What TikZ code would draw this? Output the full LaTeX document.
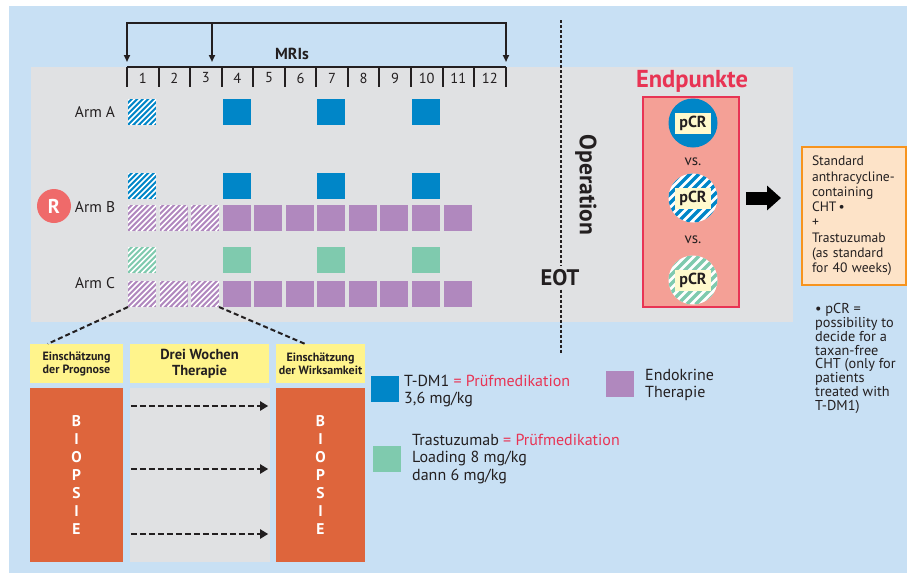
\documentclass[tikz,border=0pt]{standalone}
\usepackage{fontspec}
\setmainfont{PT Sans}
\usetikzlibrary{arrows.meta,calc}

\definecolor{bgblue}{RGB}{200,224,244}
\definecolor{panel}{RGB}{224,225,227}
\definecolor{tdm}{RGB}{0,134,200}
\definecolor{endo}{RGB}{176,136,190}
\definecolor{trz}{RGB}{127,202,174}
\definecolor{biop}{RGB}{222,101,60}
\definecolor{hdr}{RGB}{255,244,140}
\definecolor{crim}{RGB}{232,52,84}
\definecolor{epfill}{RGB}{244,160,150}
\definecolor{rdot}{RGB}{239,106,106}
\definecolor{peach}{RGB}{253,227,200}
\definecolor{orng}{RGB}{247,148,30}
\definecolor{pcrbg}{RGB}{255,250,205}
\definecolor{ink}{RGB}{35,31,32}

\newcommand\fsz[2]{\fontsize{#1}{#2}\selectfont}

\tikzset{
  sq/.style={minimum width=28pt,minimum height=26pt,inner sep=0pt,outer sep=0pt},
  solidsq/.style={sq,fill=#1},
  hatchsq/.style={sq,fill=#1,path picture={
      \foreach \k in {-36,-30.5,...,36}{
        \draw[white,line width=1.6pt]([xshift=\k pt]path picture bounding box.south west)--++(40pt,40pt);}}},
  ringhatch/.style={circle,minimum size=49pt,inner sep=0pt,fill=white,path picture={
      \foreach \k in {-72,-63,...,63}{
        \draw[#1,line width=3.5pt]([xshift=\k pt]path picture bounding box.south west)--++(72pt,72pt);}}},
  ringsolid/.style={circle,minimum size=49pt,inner sep=0pt,fill=#1},
  pcrlabel/.style={fill=pcrbg,inner xsep=3pt,inner ysep=2pt,minimum width=36pt,minimum height=21pt,font=\fsz{16}{18}\bfseries,text=ink},
  armlabel/.style={font=\fsz{15.5}{18},text=ink},
  num/.style={font=\fsz{14.5}{16},text=ink,inner sep=0pt},
  tick/.style={ink,line width=2pt},
  brk/.style={ink,line width=2pt},
  hdrbox/.style={fill=hdr,minimum height=39pt,inner sep=1pt,align=center,text=ink},
  biopsy/.style={fill=biop,minimum height=174pt,inner sep=0pt,align=center,text=white,font=\fsz{15.5}{18}\bfseries},
  midbox/.style={fill=panel,minimum width=140pt,minimum height=174pt,inner sep=0pt},
  dashlink/.style={ink,line width=2pt,dash pattern=on 5pt off 3pt},
  darr/.style={ink,line width=2.4pt,dash pattern=on 6pt off 3pt,-{Triangle[length=8pt,width=9pt]}},
  opline/.style={ink,line width=1.6pt,dash pattern=on 3pt off 2pt},
  legtext/.style={anchor=west,inner sep=0pt,align=left,font=\fsz{16}{17.5},text=ink},
}

\begin{document}
\begin{tikzpicture}[x=1pt,y=-1pt]
  % page and panels
  \useasboundingbox (0,0) rectangle (907,573);
  \fill[white] (0,0) rectangle (907,573);
  \fill[bgblue] (9,6) rectangle (907,573);
  \fill[panel] (31,67) rectangle (793,322);

  % week scale
  \draw[tick] (127,67) -- (506,67);
  \foreach \i in {0,...,12}
    \draw[tick] ({127+31.55*\i},67) -- ({127+31.55*\i},87);
  \foreach \k in {1,...,12}
    \node[num] (w\k) at ({127+31.55*\k-15.8},78) {\k};

  % MRI time points
  \coordinate (mri1) at (127,62);
  \coordinate (mri2) at (212,62);
  \coordinate (mri3) at (506,62);
  \draw[brk,{Triangle[length=7pt,width=6pt]}-{Triangle[length=7pt,width=6pt]}]
    (mri1) -- (127,23) -- (506,23) -- (mri3);
  \draw[brk,-{Triangle[length=7pt,width=6pt]}] (212,23) -- (mri2);
  \node[font=\fsz{16}{18}\bfseries,text=ink] (mris) at (292,54) {MRIs};

  % arm labels
  \node[armlabel] (armA) at (95,112) {Arm A};
  \node[armlabel] (armB) at (95,207) {Arm B};
  \node[armlabel] (armC) at (95,283) {Arm C};
  \node[circle,fill=rdot,minimum size=34pt,inner sep=0pt,text=white,font=\fsz{20}{22}\bfseries] (rand) at (54,206) {R};

  % Arm A
  \node[hatchsq=tdm] (a1) at ({127+15},112) {};
  \foreach \k in {4,7,10}
    \node[solidsq=tdm] (a\k) at ({127+31.55*(\k-1)+15},112) {};

  % Arm B
  \node[hatchsq=tdm] (bt1) at ({127+15},186) {};
  \foreach \k in {4,7,10}
    \node[solidsq=tdm] (bt\k) at ({127+31.55*(\k-1)+15},186) {};
  \foreach \k in {1,2,3}
    \node[hatchsq=endo] (be\k) at ({127+31.55*(\k-1)+15},218) {};
  \foreach \k in {4,...,11}
    \node[solidsq=endo] (be\k) at ({127+31.55*(\k-1)+15},218) {};

  % Arm C
  \node[hatchsq=trz] (ct1) at ({127+15},260) {};
  \foreach \k in {4,7,10}
    \node[solidsq=trz] (ct\k) at ({127+31.55*(\k-1)+15},260) {};
  \foreach \k in {1,2,3}
    \node[hatchsq=endo] (ce\k) at ({127+31.55*(\k-1)+15},294) {};
  \foreach \k in {4,...,11}
    \node[solidsq=endo] (ce\k) at ({127+31.55*(\k-1)+15},294) {};

  % surgery / end of treatment
  \node[font=\fsz{22.5}{24}\bfseries,text=ink] (eot) at (560,278) {EOT};
  \coordinate (optop) at (561,20);
  \coordinate (opbot) at (561,353);
  \draw[opline] (optop) -- (eot.north -| optop);
  \draw[opline] (eot.south -| optop) -- (opbot);
  \node[rotate=-90,font=\fsz{23.5}{25}\bfseries,text=ink] (oper) at (586,185) {Operation};

  % endpoints
  \node[font=\fsz{24.5}{26}\bfseries,text=crim] (eptitle) at (692,81) {Endpunkte};
  \node[draw=crim,line width=1.8pt,fill=epfill,minimum width=96pt,minimum height=210pt,inner sep=0pt] (ep) at (691,202) {};
  \node[ringsolid=tdm] (r1) at (693,123) {};
  \node[ringhatch=tdm] (r2) at (693,198) {};
  \node[ringhatch=trz] (r3) at (693,280) {};
  \node[pcrlabel] (p1) at (r1) {pCR};
  \node[pcrlabel] (p2) at (r2) {pCR};
  \node[pcrlabel] (p3) at (r3) {pCR};
  \node[font=\fsz{15}{17},text=ink] (vs1) at (693,162) {vs.};
  \node[font=\fsz{15}{17},text=ink] (vs2) at (693,240) {vs.};

  % follow-up therapy
  \node[draw=orng,line width=2pt,fill=peach,minimum width=104pt,minimum height=138pt,
        text width=84pt,inner xsep=10pt,inner ysep=0pt,align=left,font=\fsz{13.6}{15.3},text=ink] (std) at (854,216)
    {Standard\\anthracycline-\\containing\\CHT\,•\\+\\Trastuzumab\\(as standard\\for 40 weeks)};
  \coordinate (arrs) at ($(ep.east)+(6,-4)$);
  \draw[line width=13pt,-{Triangle[length=14pt,width=24pt]}] (arrs) -- ($(arrs -| std.west)+(-20,0)$);

  \node[anchor=north west,inner sep=0pt,align=left,font=\fsz{14.3}{13.9},text=ink] (note) at (815,303)
    {• pCR =\\possibility to\\decide for a\\taxan-free\\CHT (only for\\patients\\treated with\\T-DM1)};

  % biopsy window
  \node[hdrbox,minimum width=93pt,font=\fsz{12}{13}\bfseries] (yl) at (76.5,363.5) {Einschätzung\\der Prognose};
  \node[hdrbox,minimum width=139pt,font=\fsz{14.5}{16}\bfseries] (ym) at (199.5,363.5) {Drei Wochen\\Therapie};
  \node[hdrbox,minimum width=89pt,font=\fsz{12}{13}\bfseries] (yr) at (320.5,363.5) {Einschätzung\\der Wirksamkeit};
  \node[biopsy,minimum width=93pt] (bl) at (76.5,475) {B\\I\\O\\P\\S\\I\\E};
  \node[midbox] (bm) at (200,475) {};
  \node[biopsy,minimum width=89pt] (br) at (320.5,475) {B\\I\\O\\P\\S\\I\\E};
  \foreach \dy in {-69,-6,59}
    \draw[darr] ($(bm.west)+(1,\dy)$) -- ($(bm.east)+(-2,\dy)$);
  \draw[dashlink] (ce1.south west) -- ($(yl.north west)+(18,0)$);
  \draw[dashlink] (ce3.south east) -- ($(yr.north west)+(29,0)$);

  % legend
  \node[solidsq=tdm] (lg1) at (385,389) {};
  \node[legtext] (lt1) at (404,391) {T-DM1 \textcolor{crim}{= Prüfmedikation}\\3,6 mg/kg};
  \node[solidsq=trz] (lg2) at (387,459) {};
  \node[legtext] (lt2) at (412,459) {Trastuzumab \textcolor{crim}{= Prüfmedikation}\\Loading 8 mg/kg\\dann 6 mg/kg};
  \node[solidsq=endo] (lg3) at (620,384) {};
  \node[legtext] (lt3) at (645,385) {Endokrine\\Therapie};
\end{tikzpicture}
\end{document}
